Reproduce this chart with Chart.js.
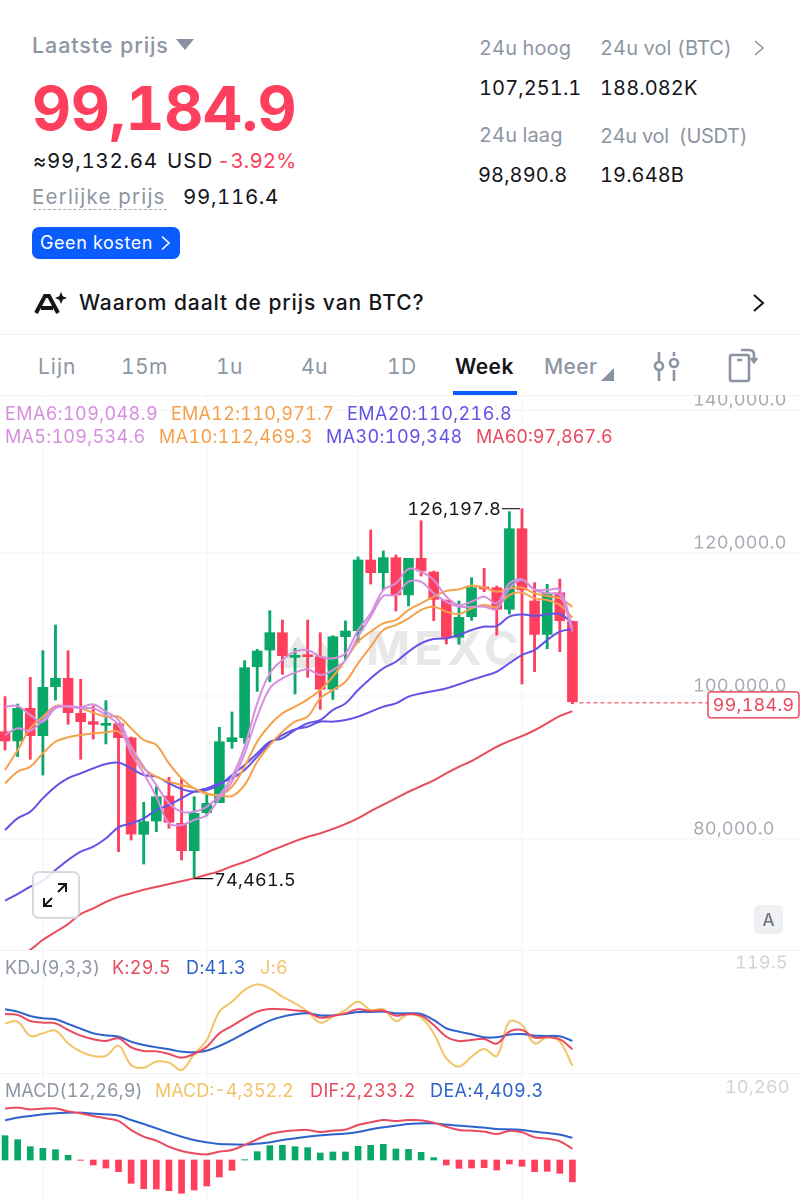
<!DOCTYPE html>
<html lang="nl"><head><meta charset="utf-8">
<script src="https://cdn.jsdelivr.net/npm/chart.js@4"></script>
<style>
html,body{margin:0;padding:0;background:#fff;width:800px;height:1200px;overflow:hidden;font-family:Inter,"Noto Sans",sans-serif;font-feature-settings:"tnum" 1;-webkit-font-smoothing:antialiased}
.t{position:absolute;white-space:pre;line-height:24px;height:24px;font-size:20px;color:#14161a;letter-spacing:.1px}
.g{color:#8e96a3}.r{color:#fe3f5e}
.lg{font-size:18px;line-height:22px;height:22px;letter-spacing:.4px}
canvas{position:absolute;left:0}
.ab{position:absolute}
</style></head><body>
<div class="t g" style="left:32px;top:33px;font-size:21.5px;font-weight:500;letter-spacing:.9px">Laatste prijs</div>
<svg class="ab" style="left:176px;top:39px" width="19" height="12"><path d="M0 0H18L9 11Z" fill="#8a93a1"/></svg>
<div class="t r" style="left:32px;top:76px;height:64px;line-height:64px;font-size:60.5px;font-weight:700;letter-spacing:-.35px">99,184.9</div>
<div class="t" style="left:33px;top:149px;font-size:20.5px;letter-spacing:.75px">≈99,132.64</div>
<div class="t" style="left:167px;top:149px;font-size:20.5px;letter-spacing:1px">USD</div>
<div class="t r" style="left:217px;top:149px;font-size:20.5px;letter-spacing:.1px">-3.92%</div>
<div class="t g" style="left:32px;top:185px;font-size:20.5px;letter-spacing:1.2px">Eerlijke prijs</div>
<div class="ab" style="left:33px;top:209px;width:134px;border-top:1.5px dashed #a6adb8"></div>
<div class="t" style="left:183px;top:185px;font-size:20.5px;letter-spacing:.65px">99,116.4</div>
<div class="ab" style="left:32px;top:227px;width:148px;height:32px;background:#0a5cff;border-radius:7px"></div>
<div class="t" style="left:40px;top:231px;color:#fff;font-size:18px;letter-spacing:.6px">Geen kosten</div>
<svg class="ab" style="left:160px;top:235px" width="12" height="16"><path d="M2 1.5L9 8L2 14.5" fill="none" stroke="#fff" stroke-width="1.6"/></svg>
<svg class="ab" style="left:34px;top:291px" width="34" height="24"><path d="M2 22L11 5H15L24 22M7 17H19" fill="none" stroke="#14161a" stroke-width="4"/><path d="M27 1L28.8 5.2L33 7L28.8 8.8L27 13L25.2 8.8L21 7L25.2 5.2Z" fill="#14161a"/></svg>
<div class="t" style="left:79px;top:291px;font-size:21px;font-weight:500;letter-spacing:.92px">Waarom daalt de prijs van BTC?</div>
<svg class="ab" style="left:752px;top:293px" width="14" height="20"><path d="M2 2L11 10L2 18" fill="none" stroke="#14161a" stroke-width="2"/></svg>

<div class="t g" style="left:479px;top:36px">24u hoog</div>
<div class="t g" style="left:600px;top:36px">24u vol (BTC)</div>
<svg class="ab" style="left:752px;top:39px" width="14" height="18"><path d="M3 2L11 9L3 16" fill="none" stroke="#8e96a3" stroke-width="1.6"/></svg>
<div class="t" style="left:479px;top:76px">107,251.1</div>
<div class="t" style="left:600px;top:76px">188.082K</div>
<div class="t g" style="left:479px;top:123px">24u laag</div>
<div class="t g" style="left:600px;top:124px;letter-spacing:-.3px">24u vol  (USDT)</div>
<div class="t" style="left:478px;top:163px">98,890.8</div>
<div class="t" style="left:600px;top:163px">19.648B</div>

<div class="ab" style="left:0;top:334px;width:800px;border-top:1px solid #eef0f2"></div>
<div class="t g" style="left:38px;top:355px;font-size:21px;letter-spacing:1px">Lijn</div>
<div class="t g" style="left:121px;top:355px;font-size:21px;letter-spacing:.4px">15m</div>
<div class="t g" style="left:216px;top:355px;font-size:21px;letter-spacing:.4px">1u</div>
<div class="t g" style="left:301px;top:355px;font-size:21px;letter-spacing:.4px">4u</div>
<div class="t g" style="left:387px;top:355px;font-size:21px;letter-spacing:.4px">1D</div>
<div class="t" style="left:455px;top:355px;font-size:21px;font-weight:600;letter-spacing:.4px">Week</div>
<div class="t g" style="left:544px;top:355px;font-size:21px;font-weight:500;letter-spacing:.4px">Meer</div>
<svg class="ab" style="left:601px;top:368px" width="13" height="13"><path d="M13 0V13H0Z" fill="#8a93a1"/></svg>
<svg class="ab" style="left:653px;top:350px" width="28" height="32" fill="none" stroke="#8a93a1" stroke-width="2.6"><path d="M6 2V11M6 21V31M21 2V6M21 20V31"/><circle cx="6" cy="16" r="4"/><circle cx="21" cy="13" r="4"/></svg>
<svg class="ab" style="left:727px;top:347px" width="32" height="36" fill="none" stroke="#8a93a1" stroke-width="2.6"><rect x="3" y="8" width="19" height="26" rx="2"/><path d="M10 13H15M14 3H22Q27 3 27 8V14M24 11L27 15L30 11"/></svg>
<div class="ab" style="left:453px;top:391px;width:64px;height:4px;background:#0a5cff"></div>
<div class="ab" style="left:0;top:395px;width:800px;border-top:1px solid #f2f3f5"></div>

<svg class="ab" style="left:278px;top:632px" width="90" height="36"><path d="M0 36L20 4L34 26L44 10L66 36H48L42 30L34 36H18L20 28L14 36Z" fill="#e8e8e8"/></svg>
<div class="t" style="left:366px;top:624px;height:48px;line-height:48px;font-size:47px;font-weight:700;letter-spacing:4.5px;color:#e8e8e8">MEXC</div>

<canvas id="main" style="top:395px" width="800" height="555"></canvas>
<canvas id="kdj" style="top:950px" width="800" height="123"></canvas>
<canvas id="macd" style="top:1073px" width="800" height="127"></canvas>
<div class="ab" style="left:0;top:950px;width:800px;border-top:1px solid #f2f3f5"></div>
<div class="ab" style="left:0;top:1073px;width:800px;border-top:1px solid #f2f3f5"></div>

<div class="t lg" style="left:5px;top:403px;color:#d68fde">EMA6:109,048.9</div>
<div class="t lg" style="left:171px;top:403px;color:#f5a14a;letter-spacing:.27px">EMA12:110,971.7</div>
<div class="t lg" style="left:347px;top:403px;color:#6352e6">EMA20:110,216.8</div>
<div class="t lg" style="left:5px;top:426px;color:#d68fde;letter-spacing:.3px">MA5:109,534.6</div>
<div class="t lg" style="left:159px;top:426px;color:#f5a14a">MA10:112,469.3</div>
<div class="t lg" style="left:326px;top:426px;color:#6352e6">MA30:109,348</div>
<div class="t lg" style="left:476px;top:426px;color:#ea4a5e;letter-spacing:0">MA60:97,867.6</div>
<div class="t lg g" style="left:5px;top:957px;letter-spacing:.1px">KDJ(9,3,3)</div>
<div class="t lg" style="left:112px;top:957px;color:#ea4a5e">K:29.5</div>
<div class="t lg" style="left:186px;top:957px;color:#2d62cc">D:41.3</div>
<div class="t lg" style="left:260px;top:957px;color:#f2c468">J:6</div>
<div class="t lg g" style="left:5px;top:1080px;letter-spacing:.1px">MACD(12,26,9)</div>
<div class="t lg" style="left:155px;top:1080px;color:#f2c468;letter-spacing:0">MACD:-4,352.2</div>
<div class="t lg" style="left:310px;top:1080px;color:#ea4a5e">DIF:2,233.2</div>
<div class="t lg" style="left:430px;top:1080px;color:#2d62cc">DEA:4,409.3</div>

<div class="ab" style="left:32px;top:871px;width:44px;height:44px;border:2px solid #d5d8dd;border-radius:7px;background:rgba(255,255,255,.85)"></div>
<svg class="ab" style="left:40px;top:880px" width="30" height="30" fill="none" stroke="#14161a" stroke-width="2"><path d="M4 26L12 18M4 18V26H12M26 4L18 12M18 4H26V12"/></svg>
<div class="ab" style="left:754px;top:905px;width:29px;height:29px;border-radius:5px;background:#eef0f2"></div>
<div class="t g" style="left:754px;top:908px;width:29px;text-align:center;font-size:17px;font-weight:500;color:#6f7682">A</div>

<script>
const opens=[95010,93710,98280,94450,101310,102470,97580,96410,95900,96130,94130,80650,82520,86010,82190,78370,83680,85080,93610,94170,104100,106430,108860,105410,105640,105500,100930,108300,109140,119020,117250,119350,114130,119250,117340,113380,108200,111100,115150,115150,112120,123400,113290,108620,114450,110440];
const highs=[99910,98880,102610,106340,109930,106340,102330,98600,99350,96180,94270,85130,87320,88630,88390,85920,86290,95620,97760,104940,106530,111930,110630,106670,110630,108860,108440,110490,119440,123220,120280,119720,119250,124520,117480,113430,113290,116550,117860,115390,125780,126197.8,115850,115620,116360,110490];
const lows=[92450,91520,91140,88950,99440,96040,91140,93990,93290,78230,79860,76500,81030,81490,77060,74461.5,83220,85080,92680,93380,100650,101990,103030,100280,102610,98140,99530,105040,107460,115660,114830,111890,112590,116780,110540,107270,107230,110580,114590,108530,111470,101680,103400,106620,106200,98930];
const closes=[93710,98280,94450,101210,102470,97670,96410,96040,96130,94170,80700,82420,85920,82330,78370,83590,84990,93610,94170,103960,106290,108860,105640,105640,105500,100930,108300,109090,119020,117250,119350,114130,119250,117480,113520,108200,111000,115150,114970,112120,123400,114830,108620,114450,110540,99184.9];

const ma5=[98510,98600,97340,96410,98280,98600,98420,98830,97810,96640,92910,90120,87550,84990,83820,83820,84520,86150,88720,92910,98970,103170,105040,106200,106430,105500,105270,105970,109230,111560,114830,115760,117760,117390,116220,113890,112730,113190,113890,112960,115760,116320,114920,114830,114830,109534.6];
const ema6=[94550,95480,95150,96640,98510,98510,98280,98280,97340,95940,91980,89180,85920,82190,81960,82660,83360,85690,88020,91980,97110,101070,102470,103260,103730,102940,103640,105040,108300,111100,113990,114130,115990,115990,114360,113190,112490,112490,112490,112170,115060,116220,114830,114360,114130,109048.9];
const ma10=[89650,92450,95480,97110,98600,98510,98280,97670,97110,97110,95480,93850,93150,90580,88490,87090,86390,86150,87320,90120,93610,95940,97580,98510,99530,100840,102700,105040,107600,109000,110160,110630,112030,112960,113890,114690,114920,115430,115150,114590,115060,115150,114360,113990,113660,112469.3];
const ema12=[87790,89420,90120,91980,93610,94220,94550,94780,94920,95010,92680,89880,88720,88020,87550,87090,86290,86110,86010,87550,90820,93150,95010,96410,97110,99670,100840,102000,104570,106900,109230,109930,110860,112030,112490,111790,111470,112260,112730,112490,114130,114450,113660,113430,112730,110971.7];
const ema20=[81260,82890,83820,85690,87320,88490,89180,89880,90490,90680,89880,88950,88720,87790,86990,86620,86850,87550,88950,90350,91980,93610,94080,95250,96180,96640,98040,98970,100840,102470,103870,104800,106200,107370,107970,108070,108530,109230,109700,109790,111100,111420,111190,111420,111470,110216.8];
const ma30=[71380,72310,73330,74170,75660,77060,78230,78930,80090,81630,82190,82890,84060,84760,85690,86620,87090,87790,88490,89650,91520,93380,94550,95340,95710,96410,96410,96640,97110,97810,98510,98970,99910,100370,100700,101070,101630,102240,102800,103400,104570,105730,106430,107830,109000,109348];
const ma60=[62800,63500,64500,65900,67000,68100,69500,70300,71200,71900,72400,72900,73300,73700,74100,74500,75000,75500,76200,76800,77500,78300,79000,79700,80300,80800,81400,82100,82900,83900,84800,85700,86600,87400,88200,89200,90100,90900,91900,92900,93700,94400,95200,96200,97200,97867.6];

const kdjK=[79.6,78.2,69.7,67.3,66.4,56.9,48.9,43.7,41.3,45.1,32.3,27.1,26.6,22.8,17.6,22.8,33.2,52.2,62.6,73.5,82.9,86.7,86.3,84.8,82.5,74.4,76.8,80.6,86.3,83.9,84.4,77.3,79.2,77.3,64,47.4,41.3,42.7,44.1,37.5,54.5,56.9,46,46.5,43.7,29.5];
const kdjD=[86.3,82.9,76.8,73.5,72.1,65.4,58.8,52.2,49.3,47.4,40.3,35.6,32.3,29.5,26.1,25.2,27.6,34.2,42.7,52.2,61.6,70.2,75.8,79.2,80.6,77.7,77.7,79.6,82.5,82.5,82.9,80.6,80.6,79.6,71.1,59.3,54.5,50.8,46.5,46.5,50.3,51.2,48.9,48.4,47.9,41.3];
const kdjJ=[66.4,68.7,48.4,52.2,56,38,26.1,20,20,34.7,7.2,3.4,11.9,10.5,0.1,22.4,42.7,82.9,97.1,113.7,121.7,116,104.2,94.8,82.9,67.3,75.8,85.3,97.1,85.3,86.3,69.7,79.2,74.4,52.2,16.7,4.8,19,29.9,20,68.7,64,38,46.5,40.3,6];

const macdHist=[4855,4057,2660,2328,2062,931,-66,-998,-1596,-2328,-4655,-5719,-5786,-6118,-6650,-5985,-5187,-3392,-2062,66,1663,2860,2926,2660,2461,1397,1596,1596,2727,2926,3126,2195,2128,1530,466,-998,-1663,-1596,-1530,-1995,-798,-1264,-2328,-2261,-2660,-4352.2];
const dif=[10260,10440,10108,10241,10308,9709,9310,8778,8313,7781,5985,4655,3857,2660,1796,1330,1131,1663,1995,2993,4123,5187,5653,5919,5985,5586,5852,6052,6983,7515,7980,7781,7980,7914,7448,6650,5985,5852,5653,5187,5786,5520,4522,4256,3724,2233.2];
const dea=[7914,8446,8778,9111,9310,9443,9443,9244,9111,8845,7980,7182,6318,5453,4655,3990,3525,3192,3126,3059,3259,3525,3990,4323,4655,4921,5121,5254,5586,6118,6517,6850,7182,7315,7315,7049,6850,6650,6451,6185,6118,5985,5653,5387,5054,4409.3];

const priceTicks=[80000,100000,120000,140000];
const kdjTicks=[119.5];
const macdTicks=[10260];
const gridIndexes=[3,16,28,41];
const lastPrice=99184.9, highPrice=126197.8, highIndex=41, lowPrice=74461.5, lowIndex=15;

const GREEN='#0aa868',RED='#fe3f5e',PINK='#d68fde',ORANGE='#f5a14a',PURPLE='#6352e6',LINERED='#ea4a5e',BLUE='#2d62cc',YELLOW='#f2c468',GRID='#f1f2f4';
const FONT='Inter, "Noto Sans", sans-serif';
const xy=v=>v.map((y,x)=>({x,y}));
const line=(data,color,order,w=2)=>({type:'line',data:xy(data),borderColor:color,borderWidth:w,pointRadius:0,tension:0.35,order,fill:false});
const xAxis={type:'linear',min:-0.4,max:63.05,offset:false,display:true,
  afterBuildTicks:s=>{s.ticks=gridIndexes.map(value=>({value}));},
  ticks:{display:false},border:{display:false},grid:{color:GRID,drawTicks:false,offset:false}};
function yAxis(min,max,ticks,showGrid){return{type:'linear',position:'right',min,max,
  afterBuildTicks:s=>{s.ticks=ticks.map(value=>({value}));},
  afterFit:s=>{s.width=0;},
  ticks:{display:false},border:{display:false},grid:{display:showGrid,color:GRID,drawTicks:false}};}
const axisText=(ticks,fmt,lift,x,color)=>({id:'axisText',afterDraw(c){const g=c.ctx,s=c.scales.y;g.save();g.font='18px '+FONT;g.letterSpacing='.25px';g.fillStyle=color;g.textBaseline='middle';g.textAlign='left';
  ticks.forEach(v=>{g.fillText(fmt(v),x,s.getPixelForValue(v)-lift);});g.restore();}});
const base=(extra)=>Object.assign({responsive:false,animation:false,devicePixelRatio:2,layout:{padding:0},plugins:{legend:{display:false},tooltip:{enabled:false}}},extra);
const fmtPrice=v=>v.toLocaleString('en-US',{minimumFractionDigits:1,maximumFractionDigits:1});

const wick=highs.map((h,x)=>({x,y:[lows[x],h]}));
const body=opens.map((o,x)=>({x,y:[o,closes[x]]}));
const upDown=closes.map((c,i)=>c>=opens[i]?GREEN:RED);

const marks={id:'marks',afterDraw(c){const g=c.ctx,X=c.scales.x,Y=c.scales.y;g.save();g.font='18px '+FONT;g.letterSpacing='.25px';g.textBaseline='middle';
  const hx=X.getPixelForValue(highIndex),hy=Y.getPixelForValue(highPrice);
  g.strokeStyle='#14161a';g.lineWidth=1.2;g.beginPath();g.moveTo(hx-20,hy);g.lineTo(hx-2,hy);g.stroke();
  g.fillStyle='#14161a';g.textAlign='right';g.fillText(fmtPrice(highPrice),hx-21,hy+1);
  const lx=X.getPixelForValue(lowIndex),ly=Y.getPixelForValue(lowPrice);
  g.beginPath();g.moveTo(lx,ly);g.lineTo(lx+19,ly);g.stroke();
  g.textAlign='left';g.fillText(fmtPrice(lowPrice),lx+20,ly+2);
  const py=Y.getPixelForValue(lastPrice)+1,px=X.getPixelForValue(closes.length-1);
  g.strokeStyle=LINERED;g.setLineDash([4,3]);g.beginPath();g.moveTo(px+7,py);g.lineTo(708,py);g.stroke();g.setLineDash([]);
  g.fillStyle='#fff';g.lineWidth=1.5;g.beginPath();g.roundRect(708,py-11,91,26,3);g.fill();g.stroke();
  g.fillStyle=LINERED;g.textAlign='center';g.fillText(fmtPrice(lastPrice),753.5,py+3);g.restore();}};

new Chart(document.getElementById('main'),{type:'bar',data:{datasets:[
  {type:'bar',data:wick,backgroundColor:upDown,barThickness:2.2,grouped:false,order:20,borderWidth:0,borderSkipped:false},
  {type:'bar',data:body,backgroundColor:upDown,barThickness:10,grouped:false,order:19,borderWidth:0,borderSkipped:false,minBarLength:2},
  line(ma60,LINERED,6),line(ma30,PURPLE,5),line(ema20,PURPLE,5),
  line(ma10,ORANGE,4),line(ema12,ORANGE,4),line(ma5,PINK,3),line(ema6,PINK,3)
]},options:base({scales:{x:xAxis,y:yAxis(64476,142098,priceTicks,true)}}),
plugins:[axisText(priceTicks,fmtPrice,10,693,'#a6abb4'),marks]});

new Chart(document.getElementById('kdj'),{type:'line',data:{datasets:[
  line(kdjJ,YELLOW,3),line(kdjD,BLUE,2),line(kdjK,LINERED,1)
]},options:base({scales:{x:xAxis,y:yAxis(-4.2,170.5,kdjTicks,false)}}),
plugins:[axisText(kdjTicks,v=>String(v),23,735,'#cfd2d7')]});

new Chart(document.getElementById('macd'),{type:'bar',data:{datasets:[
  {type:'bar',data:xy(macdHist),backgroundColor:macdHist.map(v=>v>=0?GREEN:RED),barThickness:6,grouped:false,order:9,borderWidth:0},
  line(dea,BLUE,2),line(dif,LINERED,1)
]},options:base({scales:{x:xAxis,y:yAxis(-7980,17356,macdTicks,false)}}),
plugins:[axisText(macdTicks,v=>v.toLocaleString('en-US'),21,725,'#cfd2d7')]});
</script>
</body></html>
